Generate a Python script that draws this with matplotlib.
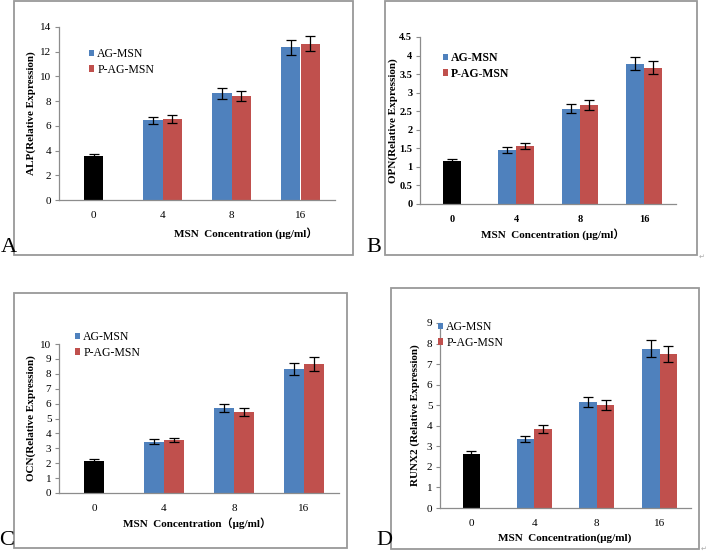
import matplotlib
matplotlib.use("Agg")
import matplotlib.pyplot as plt
from matplotlib.patches import Rectangle

W, H = 708, 551
SERIF = ['Liberation Serif', 'Noto Sans CJK SC', 'DejaVu Serif']
plt.rcParams['font.family'] = SERIF

doses = ['0', '4', '8', '16']

# control (0) then AG-MSN / P-AG-MSN at 4, 8, 16
alp_ctrl, alp_ctrl_err = 3.55, 0.2
alp_ag = [6.45, 8.65, 12.35]
alp_ag_err = [0.3, 0.45, 0.6]
alp_pag = [6.55, 8.45, 12.65]
alp_pag_err = [0.3, 0.4, 0.6]

opn_ctrl, opn_ctrl_err = 1.15, 0.07
opn_ag = [1.45, 2.57, 3.78]
opn_ag_err = [0.08, 0.12, 0.18]
opn_pag = [1.57, 2.67, 3.67]
opn_pag_err = [0.08, 0.13, 0.18]

ocn_ctrl, ocn_ctrl_err = 2.15, 0.1
ocn_ag = [3.45, 5.7, 8.35]
ocn_ag_err = [0.15, 0.25, 0.4]
ocn_pag = [3.55, 5.45, 8.65]
ocn_pag_err = [0.15, 0.25, 0.45]

runx_ctrl, runx_ctrl_err = 2.65, 0.12
runx_ag = [3.35, 5.15, 7.75]
runx_ag_err = [0.15, 0.25, 0.4]
runx_pag = [3.85, 5.0, 7.5]
runx_pag_err = [0.2, 0.25, 0.4]

BLUE = '#4F81BD'
RED = '#C0504D'
GRAY = '#8c8c8c'

fig = plt.figure(figsize=(W / 100, H / 100), dpi=100)


def fx(x):
    return x / W


def fy(y):
    return 1 - y / H


def box(x0, y0, x1, y1):
    fig.patches.append(Rectangle((fx(x0), fy(y1)), fx(x1) - fx(x0), fy(y0) - fy(y1),
                                 transform=fig.transFigure, fill=False,
                                 edgecolor='#999999', lw=1.3))


def panel(rect, ctrl, ctrl_err, ag, ag_err, pag, pag_err, ymax, ystep, ylabel,
          xlabel, ylab_x, xlab_xy, leg_xy, bold, letter, letter_xy):
    l, t, r, b = rect
    ax = fig.add_axes([fx(l), fy(b), fx(r) - fx(l), fy(t) - fy(b)])
    w = 0.28
    ek = dict(ecolor='black', capsize=3.5, elinewidth=0.9, capthick=0.9)
    ax.bar(0, ctrl, w, yerr=ctrl_err, color='black', error_kw=ek)
    xs = [1, 2, 3]
    hb = ax.bar([x - w / 2 for x in xs], ag, w, yerr=ag_err, color=BLUE,
                error_kw=ek, label='AG-MSN')
    hr = ax.bar([x + w / 2 for x in xs], pag, w, yerr=pag_err, color=RED,
                error_kw=ek, label='P-AG-MSN')
    ax.set_xlim(-0.5, 3.5)
    ax.set_ylim(0, ymax)
    n = int(round(ymax / ystep))
    ticks = [i * ystep for i in range(n + 1)]
    ax.set_yticks(ticks)
    ax.set_yticklabels(['%g' % v for v in ticks])
    ax.set_xticks(range(4))
    ax.set_xticklabels(doses)
    fw = 'bold' if bold else 'normal'
    for lab in ax.get_xticklabels() + ax.get_yticklabels():
        lab.set_fontsize(7.5 if bold else 8)
        lab.set_fontweight(fw)
    ax.tick_params(axis='x', length=0, pad=8)
    ax.tick_params(axis='y', length=3, color=GRAY, width=0.8, pad=2.5)
    for s in ['top', 'right']:
        ax.spines[s].set_visible(False)
    for s in ['left', 'bottom']:
        ax.spines[s].set_color(GRAY)
        ax.spines[s].set_linewidth(0.9)
    fig.text(fx(ylab_x), fy((t + b) / 2), ylabel, rotation=90, ha='center',
             va='center', fontsize=8, fontweight='bold')
    fig.text(fx(xlab_xy[0]), fy(xlab_xy[1]), xlabel, ha='center', va='center',
             fontsize=8, fontweight='bold', family=SERIF)
    fig.legend(handles=[hb, hr], loc='upper left',
               bbox_to_anchor=(fx(leg_xy[0]), fy(leg_xy[1])), frameon=False,
               handlelength=0.45, handleheight=0.45, handletextpad=0.25,
               labelspacing=0.3, borderpad=0, borderaxespad=0,
               prop={'size': 8.5, 'weight': fw, 'family': 'Liberation Serif'})
    fig.text(fx(letter_xy[0]), fy(letter_xy[1]), letter, ha='left',
             va='bottom', fontsize=16)
    return ax


box(14, 1, 353, 255)
box(385, 1, 697, 255)
box(14, 293, 347, 548)
box(391, 288, 699, 549)

panel((59, 27, 335, 200), alp_ctrl, alp_ctrl_err, alp_ag, alp_ag_err,
      alp_pag, alp_pag_err, 14, 2, 'ALP(Relative Expression)',
      'MSN  Concentration (\u03bcg/ml\uff09', 31, (246, 233), (89, 48),
      False, 'A', (1, 257))
panel((420, 37, 676, 204), opn_ctrl, opn_ctrl_err, opn_ag, opn_ag_err,
      opn_pag, opn_pag_err, 4.5, 0.5, 'OPN(Relative Expression)',
      'MSN  Concentration (\u03bcg/ml\uff09', 393, (553, 234), (443, 52),
      True, 'B', (366, 257))
panel((59, 344, 339, 493), ocn_ctrl, ocn_ctrl_err, ocn_ag, ocn_ag_err,
      ocn_pag, ocn_pag_err, 10, 1, 'OCN(Relative Expression)',
      'MSN  Concentration\uff08\u03bcg/ml\uff09', 31, (197, 523), (75, 331),
      False, 'C', (-1, 550))
panel((440, 323, 691, 508), runx_ctrl, runx_ctrl_err, runx_ag, runx_ag_err,
      runx_pag, runx_pag_err, 9, 1, 'RUNX2 (Relative Expression)',
      'MSN  Concentration(\u03bcg/ml)', 415, (565, 538), (438, 321),
      False, 'D', (376, 550))

fig.text(fx(699), fy(257), '\u21b5', fontsize=5, color='#aaaaaa',
         family='DejaVu Sans', ha='left', va='center')
fig.text(fx(701), fy(549), '\u21b5', fontsize=5, color='#aaaaaa',
         family='DejaVu Sans', ha='left', va='center')

fig.savefig('out.png', dpi=100, facecolor='white')
